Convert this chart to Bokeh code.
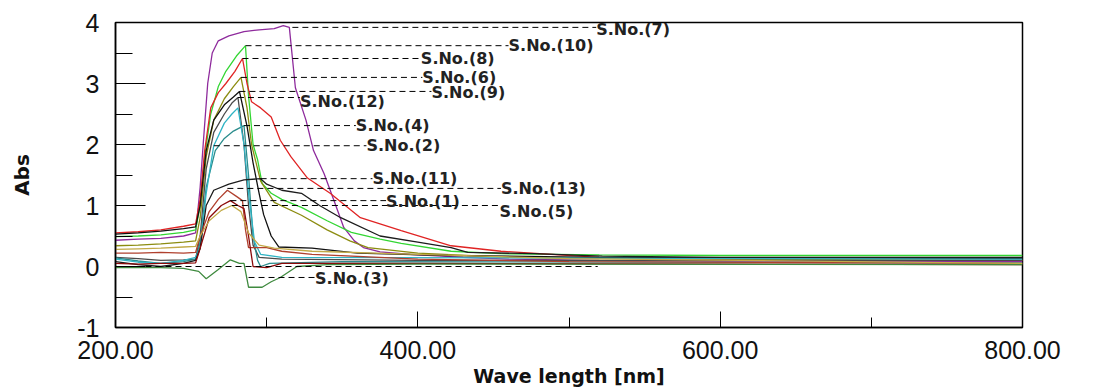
from bokeh.plotting import figure
from bokeh.models import FixedTicker, NumeralTickFormatter, Range1d
from bokeh.embed import file_html
from bokeh.resources import INLINE
from bokeh.core.properties import value

# ---------------- data ----------------
WL_S7 = [200, 215, 230, 245, 253, 256, 258, 261, 264, 268, 275, 285, 295, 305, 311, 315, 319, 326, 331, 338, 345, 351, 358, 364, 375, 395, 430, 460, 520, 600, 700, 800]
AB_S7 = [0.43, 0.45, 0.46, 0.50, 0.55, 1.30, 2.00, 3.00, 3.50, 3.70, 3.78, 3.85, 3.88, 3.90, 3.95, 3.92, 2.93, 2.40, 1.90, 1.52, 1.05, 0.64, 0.42, 0.31, 0.24, 0.20, 0.15, 0.12, 0.10, 0.09, 0.08, 0.08]

WL_S10 = [200, 215, 230, 245, 253, 256, 259, 263, 268, 273, 280, 286, 288, 291, 294, 297, 303, 310, 323, 340, 356, 375, 389, 422, 455, 520, 600, 700, 800]
AB_S10 = [0.49, 0.50, 0.52, 0.56, 0.60, 1.00, 1.80, 2.50, 2.95, 3.20, 3.45, 3.62, 2.80, 2.00, 1.75, 1.36, 1.20, 1.10, 0.97, 0.75, 0.56, 0.45, 0.38, 0.25, 0.21, 0.19, 0.18, 0.18, 0.18]

WL_S8 = [200, 215, 230, 245, 253, 256, 259, 263, 268, 273, 279, 284, 287, 290, 296, 303, 309, 316, 327, 342, 362, 389, 422, 455, 520, 600, 700, 800]
AB_S8 = [0.55, 0.57, 0.60, 0.66, 0.70, 1.10, 1.90, 2.60, 2.85, 3.00, 3.20, 3.41, 3.00, 2.70, 2.60, 2.45, 2.07, 1.80, 1.45, 1.20, 0.80, 0.59, 0.34, 0.25, 0.15, 0.12, 0.10, 0.10]

WL_S6 = [200, 215, 230, 245, 253, 256, 260, 265, 272, 278, 283, 287, 290, 296, 305, 323, 340, 355, 367, 400, 460, 600, 800]
AB_S6 = [0.34, 0.35, 0.37, 0.40, 0.42, 0.80, 1.80, 2.40, 2.75, 2.95, 3.10, 2.60, 2.00, 1.40, 1.05, 0.84, 0.60, 0.42, 0.31, 0.22, 0.15, 0.12, 0.10]

WL_S9 = [200, 215, 230, 245, 253, 256, 260, 265, 272, 278, 282, 287, 291, 295, 298, 303, 308, 330, 360, 420, 520, 800]
AB_S9 = [0.53, 0.55, 0.58, 0.62, 0.65, 1.00, 1.90, 2.40, 2.65, 2.78, 2.87, 2.30, 1.70, 1.20, 0.85, 0.50, 0.32, 0.30, 0.22, 0.18, 0.15, 0.13]

WL_S12 = [200, 215, 230, 245, 253, 256, 260, 265, 272, 277, 281, 285, 288, 291, 295, 310, 400, 800]
AB_S12 = [0.15, 0.13, 0.10, 0.11, 0.12, 0.50, 1.60, 2.20, 2.50, 2.68, 2.77, 2.00, 1.00, 0.35, 0.15, 0.12, 0.10, 0.10]

WL_S4 = [200, 215, 230, 245, 253, 256, 260, 266, 272, 278, 285, 288, 291, 294, 296, 302, 350, 800]
AB_S4 = [0.14, 0.09, 0.05, 0.08, 0.12, 0.40, 1.30, 1.90, 2.10, 2.22, 2.31, 1.50, 0.50, 0.10, 0.00, 0.05, 0.08, 0.06]

WL_S2 = [200, 215, 230, 245, 253, 256, 260, 265, 272, 277, 281, 285, 288, 292, 296, 310, 800]
AB_S2 = [0.12, 0.07, 0.05, 0.10, 0.15, 0.30, 1.20, 1.98, 2.35, 2.50, 2.60, 2.00, 1.20, 0.40, 0.20, 0.15, 0.12]

WL_S11 = [200, 215, 230, 245, 253, 256, 260, 265, 275, 285, 296, 300, 310, 323, 335, 349, 375, 400, 422, 433, 477, 522, 600, 800]
AB_S11 = [0.08, 0.03, 0.00, 0.05, 0.10, 0.30, 1.00, 1.25, 1.35, 1.42, 1.44, 1.35, 1.25, 1.20, 1.00, 0.80, 0.50, 0.40, 0.31, 0.23, 0.21, 0.17, 0.15, 0.15]

WL_S13 = [200, 215, 230, 245, 253, 256, 262, 268, 274, 280, 284, 286, 288, 300, 310, 330, 400, 500, 800]
AB_S13 = [0.22, 0.22, 0.23, 0.22, 0.23, 0.50, 0.90, 1.10, 1.25, 1.15, 1.08, 0.60, 0.31, 0.31, 0.25, 0.20, 0.12, 0.08, 0.05]

WL_S1 = [200, 215, 230, 245, 253, 256, 262, 270, 276, 281, 285, 288, 291, 300, 310, 400, 800]
AB_S1 = [0.05, 0.04, 0.05, 0.05, 0.06, 0.30, 0.80, 1.00, 1.08, 1.00, 0.95, 0.50, 0.00, -0.02, 0.05, 0.05, 0.03]

WL_S5 = [200, 215, 230, 245, 253, 256, 262, 270, 277, 283, 288, 295, 305, 330, 400, 500, 800]
AB_S5 = [0.28, 0.29, 0.30, 0.32, 0.33, 0.50, 0.75, 0.92, 1.00, 0.90, 0.55, 0.35, 0.30, 0.25, 0.20, 0.13, 0.05]

WL_S3 = [200, 230, 245, 255, 260, 268, 276, 282, 285, 288, 297, 303, 309, 320, 340, 400, 800]
AB_S3 = [-0.02, -0.02, -0.03, -0.08, -0.20, -0.05, 0.11, 0.05, 0.05, -0.34, -0.34, -0.25, -0.18, 0.00, 0.03, 0.04, 0.03]

SERIES_WL = [WL_S7, WL_S10, WL_S8, WL_S6, WL_S9, WL_S12, WL_S4, WL_S2, WL_S11, WL_S13, WL_S1, WL_S5, WL_S3]
SERIES_AB = [AB_S7, AB_S10, AB_S8, AB_S6, AB_S9, AB_S12, AB_S4, AB_S2, AB_S11, AB_S13, AB_S1, AB_S5, AB_S3]
COLORS = ["#8e2a9c", "#33d633", "#e02424", "#8c8c10", "#111111", "#4a4a4a", "#2a8c8c",
          "#30b4c4", "#1c1c1c", "#b0402e", "#8b0a0a", "#c2aa48", "#3f8a3f"]

LABELS = ["S.No.(7)", "S.No.(10)", "S.No.(8)", "S.No.(6)", "S.No.(9)", "S.No.(12)", "S.No.(4)",
          "S.No.(2)", "S.No.(11)", "S.No.(13)", "S.No.(1)", "S.No.(5)", "S.No.(3)"]
LEAD_X0 = [317, 286, 284, 283, 282, 281, 285, 265, 296, 274, 276, 277, 288]
LEAD_Y = [3.92, 3.62, 3.41, 3.10, 2.87, 2.77, 2.31, 1.98, 1.44, 1.28, 1.08, 1.00, -0.18]
TEXT_X = [518, 460, 402, 403, 409, 322, 359, 366, 370, 455, 379, 454, 332]
TEXT_Y = [3.88, 3.62, 3.41, 3.10, 2.85, 2.70, 2.31, 1.98, 1.44, 1.28, 1.06, 0.90, -0.20]

ZERO_DASH_X = [200, 519]
ZERO_DASH_Y = [0, 0]

X_TICKS = [200, 400, 600, 800]
X_MINOR = [300, 500, 700]
Y_TICKS = [-1, 0, 1, 2, 3, 4]
Y_MINOR = [-0.5, 0.5, 1.5, 2.5, 3.5]

# ---------------- figure ----------------
p = figure(width=1094, height=392, x_range=Range1d(200, 800), y_range=Range1d(-1, 4),
           output_backend="svg", toolbar_location=None,
           min_border_left=115, min_border_right=72, min_border_top=22, min_border_bottom=65)
p.background_fill_color = "white"
p.border_fill_color = "white"
p.outline_line_color = "black"
p.outline_line_width = 1.5
p.grid.visible = False

for wl, ab, c in zip(SERIES_WL, SERIES_AB, COLORS):
    p.line(wl, ab, line_color=c, line_width=1.3)

# leader lines
p.segment(x0=LEAD_X0, y0=LEAD_Y, x1=TEXT_X, y1=LEAD_Y, line_color="black",
          line_width=1, line_dash="6 4")
p.line(ZERO_DASH_X, ZERO_DASH_Y, line_color="black", line_width=1, line_dash="6 4")

p.text(x=TEXT_X, y=TEXT_Y, text=LABELS, text_font=value("DejaVu Sans"),
       text_font_style="bold", text_font_size="16px", text_color="#222222",
       text_align="left", text_baseline="middle")

# axes
p.xaxis.ticker = FixedTicker(ticks=X_TICKS, minor_ticks=X_MINOR)
p.xaxis.formatter = NumeralTickFormatter(format="0.00")
p.yaxis.ticker = FixedTicker(ticks=Y_TICKS, minor_ticks=Y_MINOR)
p.yaxis.major_label_overrides = {-1: "-1"}

for ax in (p.xaxis[0], p.yaxis[0]):
    ax.axis_line_color = "black"
    ax.axis_line_width = 1.5
    ax.major_tick_line_color = "black"
    ax.minor_tick_line_color = "black"
    ax.major_tick_out = 0
    ax.minor_tick_out = 0
    ax.major_label_text_font = "Liberation Sans"
    ax.major_label_text_font_size = "25px"
    ax.major_label_text_color = "#111111"
    ax.axis_label_text_font = "DejaVu Sans"
    ax.axis_label_text_font_style = "bold"
    ax.axis_label_text_color = "#111111"

p.xaxis.axis_label_text_font_size = "19px"
p.yaxis.axis_label_text_font_size = "20px"

p.xaxis.major_tick_in = 16
p.xaxis.minor_tick_in = 10
p.yaxis.major_tick_in = 30
p.yaxis.minor_tick_in = 17

p.xaxis.axis_label = "Wave length [nm]"
p.yaxis.axis_label = "Abs"
p.xaxis.major_label_standoff = 13
p.xaxis.axis_label_standoff = 3
p.yaxis.major_label_standoff = 16
p.yaxis.axis_label_standoff = 40

open("out.html", "w").write(file_html(p, INLINE))
